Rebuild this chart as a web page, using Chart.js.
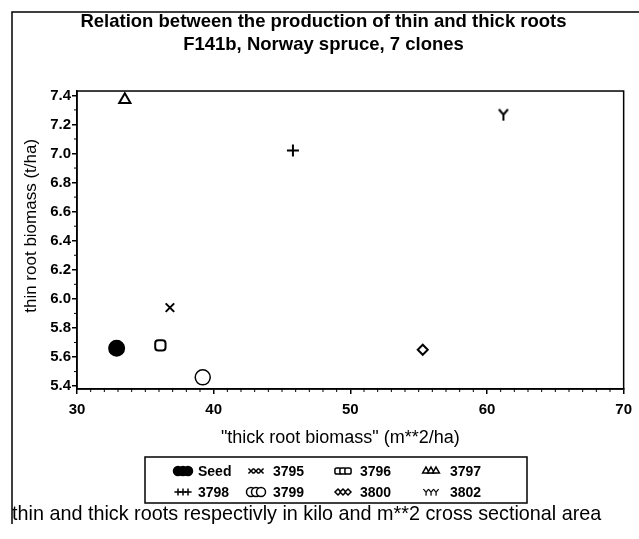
<!DOCTYPE html>
<html>
<head>
<meta charset="utf-8">
<script src="https://cdn.jsdelivr.net/npm/chart.js@4.4.0/dist/chart.umd.min.js"></script>
<style>
  html, body { margin: 0; padding: 0; background: #fff; }
</style>
</head>
<body>
<canvas id="myChart" width="639" height="539"></canvas>
<script>
const clones = ['Seed', '3795', '3796', '3797', '3798', '3799', '3800', '3802']
const thickRoot = [32.9, 36.8, 36.1, 33.5, 45.8, 39.2, 55.3, 61.2]
const thinRoot = [5.66, 5.94, 5.68, 7.37, 7.02, 5.46, 5.65, 7.27]
const xTicks = [30, 40, 50, 60, 70]
const yTicks = [5.4, 5.6, 5.8, 6.0, 6.2, 6.4, 6.6, 6.8, 7.0, 7.2, 7.4]

const FONT = 'Liberation Sans, Arial, sans-serif'

// the "Y" marker has no built-in point style
let makeY = () => {
  let c = document.createElement('canvas')
  c.width = 14
  c.height = 14
  let g = c.getContext('2d')
  g.strokeStyle = '#000'
  g.lineWidth = 2
  g.beginPath()
  g.moveTo(2.5, 2); g.lineTo(7, 7.5); g.lineTo(11.5, 2)
  g.moveTo(7, 7.5); g.lineTo(7, 13.5)
  g.stroke()
  return c
}

const markers = ['circle', 'crossRot', 'rectRounded', 'triangle', 'cross', 'circle', 'rectRot', makeY()]
const markerSize = [7.5, 6, 6, 6.5, 6, 7.5, 5, 7]
const markerFill = ['#000', '#fff', '#fff', '#fff', '#fff', '#fff', '#fff', '#fff']

let datasets = clones.map((name, i) => ({
  label: name,
  data: [{ x: thickRoot[i], y: thinRoot[i] }],
  pointStyle: markers[i],
  pointRadius: markerSize[i],
  pointBackgroundColor: markerFill[i],
  pointBorderColor: '#000',
  pointBorderWidth: i == 5 ? 1.5 : 2
}))

// frame, box around the plot, minor ticks, legend box and footnote
let decorations = {
  id: 'decorations',
  beforeDraw(chart) {
    let ctx = chart.ctx
    ctx.save()
    ctx.fillStyle = '#fff'
    ctx.fillRect(0, 0, chart.width, chart.height)
    ctx.restore()
  },
  afterDraw(chart) {
    let ctx = chart.ctx
    let a = chart.chartArea
    let xs = chart.scales.x, ys = chart.scales.y
    ctx.save()
    ctx.strokeStyle = '#000'
    ctx.lineWidth = 1.5
    ctx.strokeRect(a.left, a.top, a.right - a.left, a.bottom - a.top)

    // outer frame: top and left only
    ctx.beginPath()
    ctx.moveTo(12, 524); ctx.lineTo(12, 12); ctx.lineTo(639, 12)
    ctx.stroke()

    // minor ticks
    ctx.lineWidth = 1
    ctx.beginPath()
    for (let v = 31; v < 70; v++) {
      if (v % 10 == 0) continue
      let px = xs.getPixelForValue(v)
      ctx.moveTo(px, a.bottom); ctx.lineTo(px, a.bottom + 3)
    }
    for (let k = 55; k < 74; k += 2) {
      let py = ys.getPixelForValue(k / 10)
      ctx.moveTo(a.left, py); ctx.lineTo(a.left - 3, py)
    }
    ctx.stroke()

    // legend
    ctx.lineWidth = 1.5
    ctx.strokeRect(145, 457, 382, 46)
    let colSym = [183, 256, 343, 431]
    let colText = [198, 273, 360, 450]
    let rowY = [471, 492]
    ctx.font = 'bold 14px ' + FONT
    ctx.fillStyle = '#000'
    ctx.textBaseline = 'middle'
    chart.data.datasets.forEach((ds, i) => {
      let col = i % 4, row = Math.floor(i / 4)
      let cx = colSym[col], cy = rowY[row]
      for (let d = -5; d <= 5; d += 5) {
        if (ds.pointStyle instanceof HTMLCanvasElement) {
          ctx.drawImage(ds.pointStyle, cx + d - 4, cy - 4, 8, 8)
        } else {
          ctx.fillStyle = ds.pointBackgroundColor
          ctx.strokeStyle = '#000'
          ctx.lineWidth = 1.5
          Chart.helpers.drawPoint(ctx, {
            pointStyle: ds.pointStyle,
            radius: Math.min(ds.pointRadius * 0.6, 4.5),
            rotation: 0,
            borderWidth: 1.5
          }, cx + d, cy)
        }
      }
      ctx.fillStyle = '#000'
      ctx.fillText(ds.label, colText[col], cy + 1)
    })

    // footnote
    ctx.font = '19.8px ' + FONT
    ctx.textBaseline = 'alphabetic'
    ctx.fillText('thin and thick roots respectivly in kilo and m**2 cross sectional area', 12, 520)
    ctx.restore()
  }
}

let ctx = document.getElementById('myChart')
new Chart(ctx, {
  type: 'scatter',
  data: { datasets: datasets },
  plugins: [decorations],
  options: {
    responsive: false,
    animation: false,
    layout: { padding: { top: 0, left: 20, right: 12, bottom: 90 } },
    plugins: {
      legend: { display: false },
      tooltip: { enabled: false },
      title: {
        display: true,
        text: ['Relation between the production of thin and thick roots', 'F141b, Norway spruce, 7 clones'],
        color: '#000',
        font: { family: FONT, size: 18.5, weight: 'bold', lineHeight: 1.26 },
        padding: { top: 10.4, bottom: 34 }
      }
    },
    scales: {
      x: {
        type: 'linear',
        min: 30,
        max: 70,
        afterBuildTicks: s => { s.ticks = xTicks.map(v => ({ value: v })) },
        afterFit: s => { s.height = 60 },
        grid: { drawOnChartArea: false, tickLength: 5, color: '#000', lineWidth: 1.5 },
        border: { color: '#000', width: 1.5 },
        ticks: { color: '#000', font: { family: FONT, size: 15, weight: 'bold' }, padding: 7, maxRotation: 0 },
        title: {
          display: true,
          text: '"thick root biomass" (m**2/ha)    ',
          color: '#000',
          font: { family: FONT, size: 18, lineHeight: 1.2 },
          padding: { top: 0, bottom: 0 }
        }
      },
      y: {
        type: 'linear',
        min: 5.38,
        max: 7.43,
        afterBuildTicks: s => { s.ticks = yTicks.map(v => ({ value: v })) },
        afterFit: s => { s.width = 57 },
        grid: { drawOnChartArea: false, tickLength: 5, color: '#000', lineWidth: 1.5 },
        border: { color: '#000', width: 1.5 },
        ticks: {
          color: '#000',
          font: { family: FONT, size: 15, weight: 'bold' },
          padding: 1,
          callback: v => v.toFixed(1)
        },
        title: {
          display: true,
          text: '      thin root biomass (t/ha)',
          color: '#000',
          font: { family: FONT, size: 17, lineHeight: 1.2 },
          padding: { top: 1, bottom: 0 }
        }
      }
    }
  }
})
</script>
</body>
</html>
